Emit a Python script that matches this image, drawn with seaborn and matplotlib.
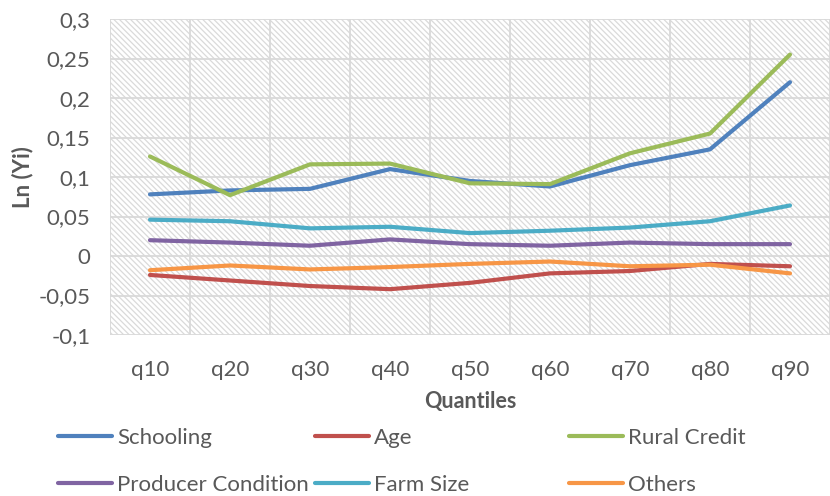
import numpy as np
import pandas as pd
import seaborn as sns
import matplotlib
matplotlib.use('Agg')
from matplotlib import pyplot as plt
from matplotlib.patches import Rectangle
from matplotlib.lines import Line2D
from matplotlib.ticker import FuncFormatter

# Data
quantiles = ['q10', 'q20', 'q30', 'q40', 'q50', 'q60', 'q70', 'q80', 'q90']
schooling = [0.078, 0.083, 0.085, 0.110, 0.095, 0.088, 0.115, 0.135, 0.220]
age = [-0.024, -0.031, -0.038, -0.042, -0.034, -0.022, -0.019, -0.010, -0.013]
rural_credit = [0.126, 0.077, 0.116, 0.117, 0.092, 0.091, 0.130, 0.155, 0.255]
producer_condition = [0.020, 0.017, 0.013, 0.021, 0.015, 0.013, 0.017, 0.015, 0.015]
farm_size = [0.046, 0.044, 0.035, 0.037, 0.029, 0.032, 0.036, 0.044, 0.064]
others = [-0.018, -0.012, -0.017, -0.014, -0.010, -0.007, -0.013, -0.011, -0.022]

series = {
    'Schooling': schooling,
    'Age': age,
    'Rural Credit': rural_credit,
    'Producer Condition': producer_condition,
    'Farm Size': farm_size,
    'Others': others,
}
colors = {
    'Schooling': '#4F81BD',
    'Age': '#C0504D',
    'Rural Credit': '#9BBB59',
    'Producer Condition': '#8064A2',
    'Farm Size': '#4BACC6',
    'Others': '#F79646',
}

df = pd.concat([pd.DataFrame({'Quantile': quantiles, 'Value': v, 'Variable': k})
                for k, v in series.items()], ignore_index=True)

sns.set_style('white')
plt.rcParams['font.family'] = ['Lato', 'DejaVu Sans']
plt.rcParams['hatch.linewidth'] = 0.9

fig = plt.figure(figsize=(8.3, 4.96), dpi=100)
ax = fig.add_axes([110 / 830, 1 - 335 / 496, 720 / 830, 316 / 496])

# hatched plot area
ax.add_patch(Rectangle((0, 0), 1, 1, transform=ax.transAxes, facecolor='white',
                       edgecolor='#dadada', hatch='\\' * 6, lw=0, zorder=0))

sns.lineplot(data=df, x='Quantile', y='Value', hue='Variable', palette=colors,
             linewidth=3, legend=False, ax=ax, zorder=3)

ax.set_xlim(-0.5, 8.5)
ax.set_ylim(-0.1, 0.3)
ax.set_yticks(np.arange(-0.1, 0.3001, 0.05))
ax.yaxis.set_major_formatter(FuncFormatter(lambda v, p: ('%g' % round(v, 2)).replace('.', ',')))
ax.set_xticks(range(len(quantiles)))
ax.set_xticklabels(quantiles)
ax.set_xticks(np.arange(-0.5, 8.51, 0.5), minor=True)

ax.grid(False)
ax.yaxis.grid(True, which='major', color='#d9d9d9', lw=1.3, zorder=1)
ax.xaxis.grid(True, which='minor', color='#d9d9d9', lw=1.3, zorder=1)
ax.tick_params(axis='both', which='both', length=0, labelsize=16, labelcolor='#595959')
ax.tick_params(axis='x', pad=18)
ax.tick_params(axis='y', pad=14)
for s in ax.spines.values():
    s.set_visible(False)

ax.set_xlabel('Quantiles', fontsize=15.5, fontweight='bold', color='#595959', labelpad=8)
ax.set_ylabel('Ln (Yi)', fontsize=16, fontweight='bold', color='#595959', labelpad=4)

# legend: three columns placed at fixed positions
cols = [['Schooling', 'Producer Condition'], ['Age', 'Farm Size'], ['Rural Credit', 'Others']]
xpos = [49, 306, 560]
for names, x in zip(cols, xpos):
    handles = [Line2D([0], [0], color=colors[n], lw=3) for n in names]
    fig.legend(handles, names, loc='upper left', bbox_to_anchor=(x / 830, 1 - 419 / 496),
               frameon=False, fontsize=16, handlelength=2.45, handletextpad=0.22,
               labelspacing=1.2, labelcolor='#595959', borderaxespad=0)

fig.savefig('out.png', dpi=100)
